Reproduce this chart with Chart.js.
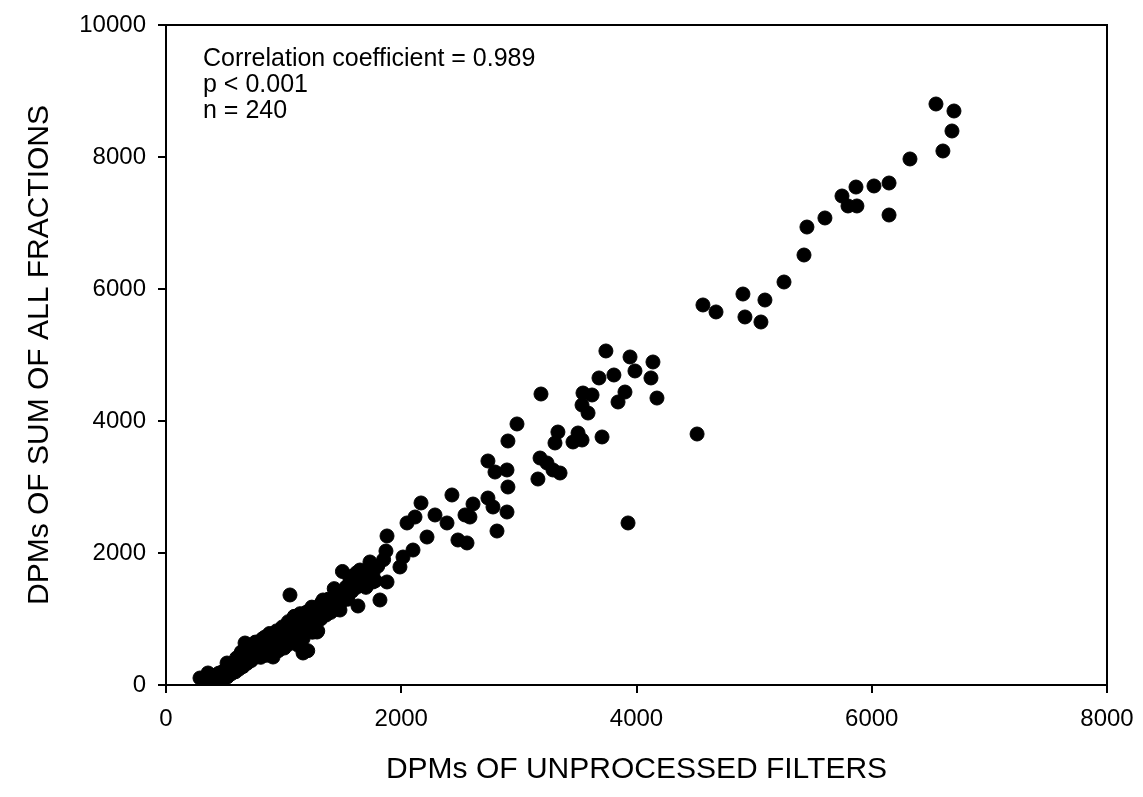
<!DOCTYPE html>
<html>
<head>
<meta charset="utf-8">
<script src="https://cdn.jsdelivr.net/npm/chart.js@4.4.0/dist/chart.umd.min.js"></script>
<style>
  body { margin: 0; background: #ffffff; }
</style>
</head>
<body>
<canvas id="grafico" width="1143" height="797"></canvas>
<script>
// valores (x = filtros não processados, y = soma das frações)
const unprocessedFilters = [
  330, 345, 360, 370, 380, 390, 400, 410, 420, 430, 440, 450, 460, 470, 480, 490, 500, 510, 520, 530,
  545, 555, 565, 575, 590, 600, 610, 620, 635, 645, 655, 665, 680, 690, 700, 705, 715, 725, 735, 745,
  755, 765, 775, 785, 795, 805, 815, 825, 835, 845,
  855, 865, 875, 885, 895, 905, 915, 925, 935, 945, 955, 965, 975, 985, 995, 1005, 1015, 1025, 1035, 1045,
  1055, 1065, 1075, 1085, 1095, 1105, 1115, 1125, 1135, 1145,
  1155, 1165, 1175, 1185, 1195, 1205, 1215, 1225, 1235, 1245, 1255, 1265, 1280, 1290, 1300, 1315, 1330, 1345, 1360, 1375,
  1390, 1400,
  1420, 1440, 1455, 1470, 1485, 1500, 1515, 1530, 1545, 1560, 1580, 1600, 1620, 1640, 1660, 1680, 1700, 1720, 1740, 1760,
  1780, 1800,
  1879, 1870, 1054, 1734, 1649, 1819, 1632, 1760, 1879, 1479, 1335, 1284, 1165, 910, 842, 672, 519, 357, 289, 374,
  459,
  600, 640, 700, 760, 820, 880, 940, 990, 1040, 1090, 1140, 1190, 1240, 1320, 1380, 1430, 1560, 1620, 1700, 1850,
  1989, 2015, 2049, 2100, 2117, 2168, 2219, 2287, 2389, 2431, 2482, 2542, 2559, 2584, 2610, 2737, 2780, 2814, 2899, 2737,
  2797, 2899, 2907, 2907, 2984,
  3162, 3180, 3239, 3290, 3350, 3332, 3188, 3307, 3460, 3503, 3537, 3707, 3537, 3545, 3588, 3622, 3681, 3808, 3740, 3843,
  3902, 3945, 3987, 4123, 4140, 4174, 3928, 4515,
  4565, 4676, 4905, 4922, 5058, 5092, 5254, 5424, 5449, 5602, 5747, 5798, 5874, 5866, 6019, 6147, 6147, 6325, 6546, 6605,
  6682, 6699
];

const sumOfFractions = [
  80, 40, 110, 20, 60, 130, 30, 90, 150, 60, 110, 180, 40, 130, 200, 90, 160, 240, 120, 210,
  280, 170, 250, 320, 200, 290, 360, 240, 330, 410, 280, 380, 450, 330, 600, 420, 510, 370, 460, 560,
  420, 500, 610, 460, 540, 420, 600, 510, 680, 560,
  450, 620, 540, 700, 600, 480, 660, 560, 740, 640, 520, 700, 800, 620, 730, 560, 850, 690, 780, 620,
  900, 740, 830, 680, 960, 790, 880, 600, 1000, 840,
  930, 700, 1060, 880, 980, 520, 1120, 900, 1020, 800, 1150, 960, 1080, 820, 1180, 1000, 1120, 1220, 1060, 1160,
  1260, 1100,
  1200, 1320, 1150, 1400, 1250, 1720, 1380, 1480, 1300, 1540, 1420, 1560, 1480, 1620, 1550, 1700, 1600, 1760, 1640, 1700,
  1580, 1800,
  2258, 2030, 1364, 1864, 1742, 1288, 1197, 1561, 1561, 1136, 1288, 803, 485, 424, 727, 636, 333, 182, 106, 45,
  121,
  410, 500, 500, 650, 700, 780, 820, 880, 960, 1040, 1080, 1100, 1180, 1240, 1300, 1460, 1640, 1700, 1480, 1900,
  1788, 1939, 2455, 2045, 2545, 2758, 2242, 2576, 2455, 2879, 2197, 2576, 2152, 2545, 2742, 2833, 2697, 2333, 2621, 3394,
  3227, 3258, 3000, 3697, 3955,
  3121, 3439, 3364, 3258, 3212, 3833, 4409, 3667, 3682, 3818, 3712, 3758, 4242, 4424, 4121, 4394, 4652, 4697, 5061, 4288,
  4439, 4970, 4758, 4652, 4894, 4348, 2455, 3803,
  5758, 5652, 5924, 5576, 5500, 5833, 6106, 6515, 6939, 7076, 7409, 7258, 7258, 7545, 7561, 7606, 7121, 7970, 8803, 8091,
  8394, 8697
];

const xTicks = [0, 2000, 4000, 6000, 8000];
const yTicks = [0, 2000, 4000, 6000, 8000, 10000];

const statsLines = ["Correlation coefficient = 0.989", "p < 0.001", "n = 240"];

const fonte = '"Liberation Sans", Arial, sans-serif';
Chart.defaults.font.family = fonte;
Chart.defaults.color = "#000000";

// moldura de cima/direita e o texto das estatísticas
const moldura = {
  id: "moldura",
  afterDraw(chart) {
    const ctx = chart.ctx;
    const a = chart.chartArea;
    ctx.save();
    ctx.strokeStyle = "#000000";
    ctx.lineWidth = 2;
    ctx.beginPath();
    ctx.moveTo(a.left, a.top);
    ctx.lineTo(a.right, a.top);
    ctx.lineTo(a.right, a.bottom);
    ctx.stroke();
    ctx.fillStyle = "#000000";
    ctx.font = "25px " + fonte;
    ctx.textBaseline = "middle";
    statsLines.forEach(function (t, i) {
      ctx.fillText(t, a.left + 37, a.top + 34 + i * 26);
    });
    ctx.restore();
  }
};

const pontos = unprocessedFilters.map(function (x, i) {
  return { x: x, y: sumOfFractions[i] };
});

new Chart(document.getElementById("grafico"), {
  type: "scatter",
  data: {
    datasets: [{
      label: "DPMs",
      data: pontos,
      backgroundColor: "#000000",
      borderColor: "#000000",
      borderWidth: 1,
      pointRadius: 7,
      pointHoverRadius: 7
    }]
  },
  options: {
    responsive: false,
    animation: false,
    layout: { padding: { top: 25, right: 36, left: 0, bottom: 0 } },
    plugins: {
      legend: { display: false },
      tooltip: { enabled: false }
    },
    scales: {
      x: {
        type: "linear",
        min: 0,
        max: 8000,
        afterBuildTicks: function (scale) {
          scale.ticks = xTicks.map(function (v) { return { value: v }; });
        },
        afterFit: function (scale) {
          scale.height = 112;
          // não deixar o rótulo 8000 encolher a área do gráfico
          scale.paddingLeft = 0;
          scale.paddingRight = 0;
        },
        ticks: { font: { size: 24 }, padding: 12, color: "#000000", callback: function (v) { return v; } },
        grid: { drawOnChartArea: false, drawTicks: true, tickLength: 8, color: "#000000", lineWidth: 2 },
        border: { display: true, color: "#000000", width: 2 },
        title: {
          display: true,
          text: "DPMs OF UNPROCESSED FILTERS",
          font: { size: 30 },
          color: "#000000",
          padding: { top: 0, bottom: 9 }
        }
      },
      y: {
        type: "linear",
        min: 0,
        max: 10000,
        afterBuildTicks: function (scale) {
          scale.ticks = yTicks.map(function (v) { return { value: v }; });
        },
        afterFit: function (scale) {
          scale.width = 166;
          scale.paddingTop = 0;
          scale.paddingBottom = 0;
        },
        ticks: { font: { size: 24 }, padding: 12, color: "#000000", callback: function (v) { return v; } },
        grid: { drawOnChartArea: false, drawTicks: true, tickLength: 8, color: "#000000", lineWidth: 2 },
        border: { display: true, color: "#000000", width: 2 },
        title: {
          display: true,
          text: "DPMs OF SUM OF ALL FRACTIONS",
          font: { size: 30 },
          color: "#000000",
          padding: { top: 22, bottom: 0 }
        }
      }
    }
  },
  plugins: [moldura]
});
</script>
</body>
</html>
